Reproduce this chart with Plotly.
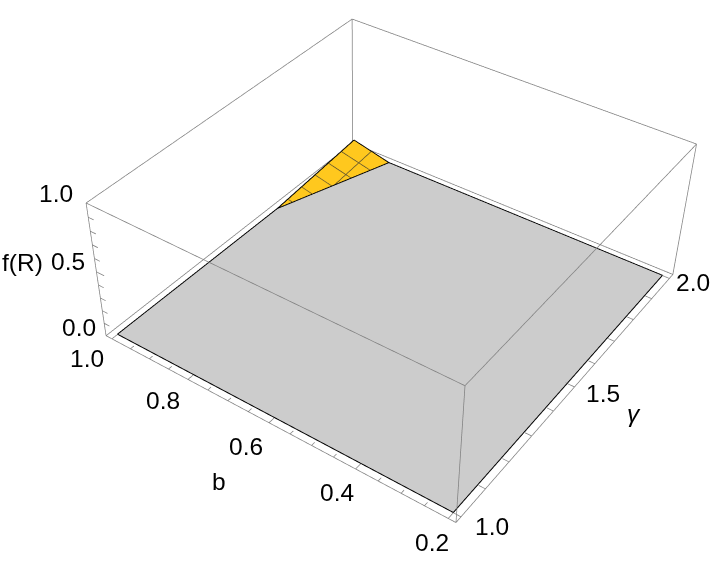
import plotly.graph_objects as go

# plot box, Mathematica style padding around the data
gamma_box = [0.98, 2.02]
b_box = [0.184, 1.016]
z_box = [0.0, 1.0]

# flat grey clipped part of the surface, in (gamma, b)
grey_gamma = [1.0, 1.0, 2.0, 2.0, 1.64]
grey_b = [1.0, 0.2, 0.2, 0.9, 1.0]
grey_z = [0.0, 0.0, 0.0, 0.0, 0.0]
# yellow corner where f(R) rises above zero
yellow_gamma = [2.0, 2.0, 1.64]
yellow_b = [1.0, 0.9, 1.0]
yellow_z = [0.07, 0.0, 0.0]

# mesh lines inside the yellow corner: start on one edge, end on the z=0 boundary
mesh_gamma = [1.9375, 1.875, 1.8125, 1.75, 1.6875]
mesh_gamma_start_z = [0.058, 0.046, 0.033, 0.021, 0.009]
mesh_gamma_end_b = [0.917, 0.935, 0.952, 0.969, 0.987]
mesh_b = [0.95]
mesh_b_start_z = [0.035]
mesh_b_end_gamma = [1.82]

b_ticks = [0.2, 0.25, 0.3, 0.35, 0.4, 0.45, 0.5, 0.55, 0.6, 0.65, 0.7, 0.75, 0.8, 0.85, 0.9, 0.95, 1.0]
b_major = [0.2, 0.4, 0.6, 0.8, 1.0]
b_labels = ["0.2", "0.4", "0.6", "0.8", "1.0"]
gamma_ticks = [1.0, 1.1, 1.2, 1.3, 1.4, 1.5, 1.6, 1.7, 1.8, 1.9, 2.0]
gamma_major = [1.0, 1.5, 2.0]
gamma_labels = ["1.0", "1.5", "2.0"]
z_ticks = [0.0, 0.1, 0.2, 0.3, 0.4, 0.5, 0.6, 0.7, 0.8, 0.9, 1.0]
z_major = [0.0, 0.5, 1.0]
z_labels = ["0.0", "0.5", "1.0"]

FONT = dict(family="Liberation Sans, Arial, sans-serif", size=24.5, color="black")
LIFT = 0.002


def segments(pairs):
    x, y, z = [], [], []
    for p, q in pairs:
        x += [p[0], q[0], None]
        y += [p[1], q[1], None]
        z += [p[2], q[2], None]
    return x, y, z


def line_trace(pairs, color, width):
    x, y, z = segments(pairs)
    return go.Scatter3d(x=x, y=y, z=z, mode="lines", line=dict(color=color, width=width),
                        hoverinfo="skip", showlegend=False)


def flat_mesh(xs, ys, zs, color):
    n = len(xs)
    return go.Mesh3d(x=xs, y=ys, z=zs, i=[0] * (n - 2), j=list(range(1, n - 1)), k=list(range(2, n)),
                     color=color, flatshading=True, hoverinfo="skip",
                     lighting=dict(ambient=1, diffuse=0, specular=0, fresnel=0), showscale=False)


g0, g1 = gamma_box
b0, b1 = b_box
z0, z1 = z_box

box_edges = []
for g in gamma_box:
    for b in b_box:
        box_edges.append(((g, b, z0), (g, b, z1)))
for z in z_box:
    box_edges += [((g0, b0, z), (g1, b0, z)), ((g1, b0, z), (g1, b1, z)),
                  ((g1, b1, z), (g0, b1, z)), ((g0, b1, z), (g0, b0, z))]

ticks = []
for b in b_ticks:
    ticks.append(((g0, b, z0), (g0 + (0.02 if b in b_major else 0.012), b, z0)))
for g in gamma_ticks:
    ticks.append(((g, b0, z0), (g, b0 + (0.02 if g in gamma_major else 0.014), z0)))
for z in z_ticks:
    ticks.append(((g0, b1, z), (g0, b1 - (0.02 if z in z_major else 0.014), z)))


def outline(xs, ys, zs):
    n = len(xs)
    return [((xs[i], ys[i], zs[i] + LIFT), (xs[(i + 1) % n], ys[(i + 1) % n], zs[(i + 1) % n] + LIFT)) for i in range(n)]


mesh_lines = []
for g, start, end in zip(mesh_gamma, mesh_gamma_start_z, mesh_gamma_end_b):
    mesh_lines.append(((g, 1.0, start + LIFT), (g, end, LIFT)))
for b, start, end in zip(mesh_b, mesh_b_start_z, mesh_b_end_gamma):
    mesh_lines.append(((2.0, b, start + LIFT), (end, b, LIFT)))

fig = go.Figure()
fig.add_trace(flat_mesh(grey_gamma, grey_b, grey_z, "#CCCCCC"))
fig.add_trace(flat_mesh(yellow_gamma, yellow_b, yellow_z, "#FFC81E"))
fig.add_trace(line_trace(mesh_lines, "#5a5030", 1.5))
fig.add_trace(line_trace(outline(grey_gamma, grey_b, grey_z) + outline(yellow_gamma, yellow_b, yellow_z), "black", 2))
fig.add_trace(line_trace(box_edges, "#808080", 1.5))
fig.add_trace(line_trace(ticks, "#808080", 1.5))


def label(text, x, y, z, dx, dy):
    return dict(text=text, x=x, y=y, z=z, xshift=dx, yshift=-dy, showarrow=False,
                xanchor="center", yanchor="middle", font=FONT)


b_shift = [(-16, 24), (-19, 24), (-23, 24), (-25, 21), (-25, 20)]
gamma_shift = [(31, 10), (28, 7), (24, 4)]
z_shift = [(-27, -8), (-28, -10), (-30, -9)]

annotations = []
for b, t, s in zip(b_major, b_labels, b_shift):
    annotations.append(label(t, g0, b, z0, *s))
for g, t, s in zip(gamma_major, gamma_labels, gamma_shift):
    annotations.append(label(t, g, b0, z0, *s))
for z, t, s in zip(z_major, z_labels, z_shift):
    annotations.append(label(t, g0, b1, z, *s))
annotations.append(label("f(R)", g0, b1, 0.5, -74, -9))
annotations.append(label("b", g0, 0.6, z0, -50, 59))
annotations.append(label("<i>γ</i>", 1.5, b0, z0, 59, 27))

hidden = dict(visible=False)
fig.update_layout(
    width=716, height=1200, margin=dict(l=0, r=0, t=0, b=0), paper_bgcolor="white",
    scene=dict(
        domain=dict(x=[0, 1], y=[0, 1]),
        xaxis=dict(range=[g0 - 0.001, g1 + 0.001], **hidden),
        yaxis=dict(range=[b0 - 0.001, b1 + 0.001], **hidden),
        zaxis=dict(range=[z0 - 0.001, z1 + 0.001], **hidden),
        aspectmode="manual", aspectratio=dict(x=1.3673, y=1.3576, z=0.5387),
        camera=dict(eye=dict(x=-3.0474, y=-2.0425, z=2.8832),
                    center=dict(x=-0.1619, y=0.0415, z=-0.1204),
                    up=dict(x=0.0095, y=-0.0075, z=1)),
        annotations=annotations,
    ),
)
# the camera has a fixed 45 degree view, so a tall scene is shifted up to get the picture's flatter perspective
fig.write_html("out.html", config=dict(displayModeBar=False),
               post_script="document.body.style.margin='0';document.body.style.overflow='hidden';"
                           "document.getElementById('{plot_id}').style.marginTop='-309px';")
